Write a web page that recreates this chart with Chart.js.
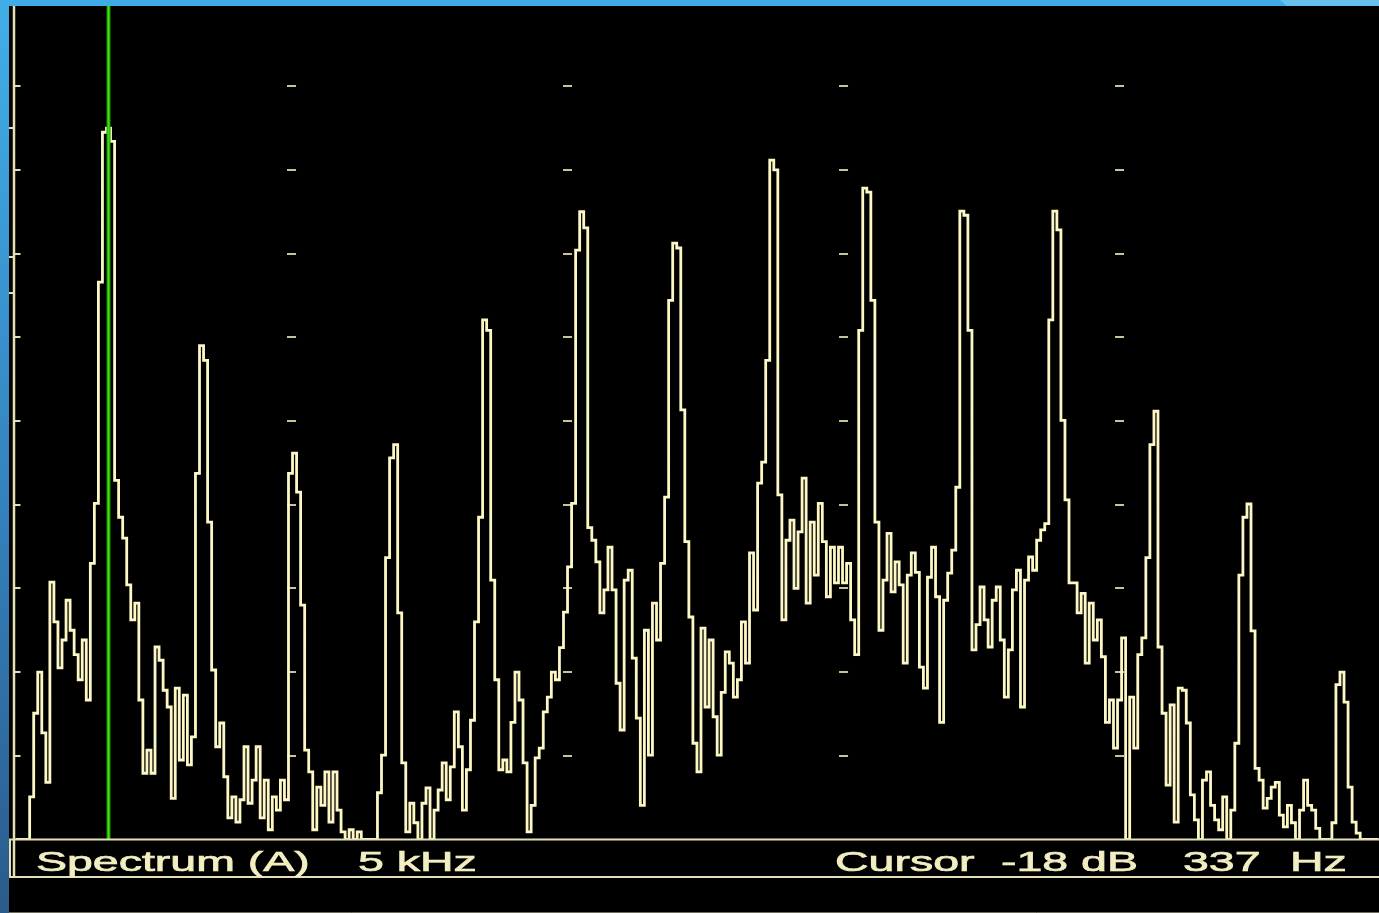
<!DOCTYPE html>
<html>
<head>
<meta charset="utf-8">
<script src="https://cdn.jsdelivr.net/npm/chart.js@4/dist/chart.umd.min.js"></script>
<style>
  html, body { margin: 0; padding: 0; background: #000; overflow: hidden; }
  canvas { display: block; }
</style>
</head>
<body>
<canvas id="scope" width="1379" height="913"></canvas>
<script>
// Analyser bin spacing (Hz) and the level of every bin (dB)
const binHz = 337 / 23;
const levelsDb = [
  -120, -120, -120, -120, -113.9, -101.9, -96.0, -104.7, -111.8, -83.1,
  -88.8, -95.4, -91.4, -85.7, -90.0, -93.5, -97.1, -91.4, -100.0, -80.4,
  -71.8, -40.1, -18.6, -18.0, -19.9, -68.5, -73.8, -76.8, -83.5, -88.5,
  -86.1, -100.0, -110.5, -107.2, -110.5, -92.4, -94.3, -98.6, -101.0, -114.1,
  -98.3, -108.6, -99.3, -109.3, -105.3, -67.5, -49.2, -51.3, -74.5, -95.7,
  -106.7, -103.3, -111.0, -116.9, -113.9, -117.5, -114.3, -106.7, -114.8, -111.5,
  -106.7, -116.9, -111.5, -118.6, -113.9, -115.8, -111.5, -114.3, -67.5, -64.6,
  -70.2, -86.4, -107.2, -110.3, -118.6, -112.5, -115.1, -110.3, -117.5, -110.3,
  -115.8, -118.9, -120, -118.6, -120, -118.9, -120, -120, -120, -120,
  -113.3, -107.9, -79.6, -65.3, -63.4, -87.5, -109.0, -118.9, -114.8, -117.6,
  -120, -114.8, -112.6, -120, -115.8, -112.9, -109.0, -114.3, -109.6, -101.7,
  -106.7, -115.8, -110.0, -102.9, -88.8, -73.8, -45.5, -47.0, -82.8, -97.1,
  -110.0, -108.6, -110.3, -103.2, -96.0, -100.0, -109.0, -118.9, -115.1, -108.3,
  -106.9, -101.7, -99.6, -96.0, -97.1, -92.5, -87.4, -80.9, -71.8, -35.5,
  -30.0, -32.3, -75.3, -77.1, -80.2, -87.5, -84.2, -78.1, -84.2, -97.6,
  -104.3, -82.8, -81.4, -94.0, -102.6, -115.1, -90.0, -107.9, -86.1, -91.4,
  -80.4, -70.9, -42.7, -34.5, -35.2, -58.4, -77.3, -88.1, -106.2, -110.3,
  -89.7, -101.0, -91.4, -102.4, -107.9, -98.9, -93.1, -94.7, -99.6, -97.1,
  -88.8, -94.7, -78.9, -87.1, -68.9, -65.9, -51.3, -22.6, -24.0, -70.6,
  -88.5, -77.1, -74.2, -84.0, -75.9, -68.2, -86.1, -74.5, -82.1, -71.8,
  -77.3, -85.2, -78.1, -83.2, -78.1, -83.2, -80.4, -88.5, -93.5, -47.0,
  -26.6, -27.2, -42.7, -74.5, -90.0, -82.8, -76.1, -84.5, -80.2, -83.5,
  -94.7, -82.1, -78.9, -81.7, -95.3, -98.3, -82.4, -78.1, -85.2, -103.2,
  -85.7, -81.8, -78.5, -69.5, -29.9, -30.5, -47.0, -92.8, -89.2, -83.8,
  -88.5, -92.4, -85.7, -83.8, -91.4, -99.6, -92.8, -84.2, -81.4, -101.0,
  -82.8, -79.5, -81.4, -77.1, -75.6, -74.7, -45.5, -29.9, -32.6, -59.9,
  -71.3, -83.2, -83.2, -87.5, -84.7, -94.7, -86.1, -91.4, -88.5, -93.8,
  -103.2, -100.0, -106.9, -100.0, -91.1, -120, -99.6, -106.9, -93.5, -91.1,
  -79.6, -63.4, -58.6, -92.4, -101.9, -112.2, -100.7, -117.5, -98.3, -98.6,
  -103.3, -113.6, -117.2, -120, -111.5, -110.3, -115.1, -117.2, -118.6, -113.9,
  -120, -115.8, -106.2, -82.1, -73.8, -71.9, -90.1, -109.8, -111.5, -115.5,
  -114.1, -112.5, -111.8, -116.5, -118.2, -115.1, -117.6, -120, -115.8, -111.5,
  -115.1, -115.8, -118.4, -120, -120, -120, -117.6, -97.8, -96.0, -100.3,
  -112.5, -117.5, -119.1, -120, -120, -120, -120, -120
];

// Graticule
const gridHz = [1000, 2000, 3000, 4000];
const gridDb = [-12, -24, -36, -48, -60, -72, -84, -96, -108];
const markerDb = [-18, -36.5, -41.6];
const spanHz = [0, 4940];
const rangeDb = [-120, 0];

// Cursor and status line
const cursorHz = 337;
const cursorDb = -18;
const statusTitle = 'Spectrum (A)';
const statusSpan = '5 kHz';
const statusCursor = 'Cursor';

const TRACE = '#fcf7c4';
const points = levelsDb.map((v, i) => ({ x: i * binHz, y: v }));

const scopeFrame = {
  id: 'scopeFrame',
  beforeDraw(chart) {
    const { ctx, width, height } = chart;
    const xs = chart.scales.x, ys = chart.scales.y;
    ctx.save();
    ctx.fillStyle = '#000';
    ctx.fillRect(0, 0, width, height);

    // graticule dashes
    ctx.strokeStyle = '#c8c39a';
    ctx.lineWidth = 2;
    ctx.beginPath();
    for (const hz of gridHz) {
      const px = xs.getPixelForValue(hz);
      for (const db of gridDb) {
        const py = Math.round(ys.getPixelForValue(db));
        ctx.moveTo(px - 4.5, py);
        ctx.lineTo(px + 4.5, py);
      }
    }
    ctx.stroke();

    // ticks on the level axis
    const ax = xs.getPixelForValue(0) - 1.5;
    ctx.strokeStyle = '#e4e0b4';
    ctx.beginPath();
    for (const db of gridDb) {
      const py = Math.round(ys.getPixelForValue(db));
      ctx.moveTo(ax, py);
      ctx.lineTo(ax + 6.5, py);
    }
    for (const db of markerDb) {
      const py = Math.round(ys.getPixelForValue(db));
      ctx.moveTo(ax - 5.5, py);
      ctx.lineTo(ax, py);
    }
    ctx.stroke();
    ctx.restore();
  },
  afterDatasetsDraw(chart) {
    const { ctx, width } = chart;
    const xs = chart.scales.x, ys = chart.scales.y;
    const base = ys.getPixelForValue(rangeDb[0]);
    const ax = xs.getPixelForValue(0) - 1.5;
    const stripBottom = 877;
    ctx.save();

    // cursor line
    const cx = xs.getPixelForValue(cursorHz);
    ctx.lineCap = 'butt';
    ctx.strokeStyle = '#169400';
    ctx.lineWidth = 4;
    ctx.beginPath(); ctx.moveTo(cx, 0); ctx.lineTo(cx, base); ctx.stroke();
    ctx.strokeStyle = '#3fdc12';
    ctx.lineWidth = 2;
    ctx.beginPath(); ctx.moveTo(cx, 0); ctx.lineTo(cx, base); ctx.stroke();

    // level axis, baseline and status strip
    ctx.strokeStyle = '#e4e0b4';
    ctx.lineWidth = 2.5;
    ctx.beginPath();
    ctx.moveTo(ax, 0); ctx.lineTo(ax, stripBottom);
    ctx.stroke();
    ctx.lineWidth = 2;
    ctx.beginPath();
    ctx.moveTo(9, base); ctx.lineTo(width, base);
    ctx.moveTo(9, stripBottom); ctx.lineTo(width, stripBottom);
    ctx.moveTo(10, base); ctx.lineTo(10, stripBottom);
    ctx.stroke();
    ctx.strokeStyle = 'rgba(200,196,160,0.55)';
    ctx.lineWidth = 1;
    ctx.beginPath(); ctx.moveTo(9, 912.5); ctx.lineTo(width, 912.5); ctx.stroke();

    // status text
    ctx.fillStyle = '#f2eec2';
    ctx.strokeStyle = '#f2eec2';
    ctx.lineWidth = 0.7;
    ctx.font = '28px "Liberation Sans", Arial, sans-serif';
    ctx.textBaseline = 'alphabetic';
    const pieces = [
      [statusTitle, 36],
      [statusSpan, 358],
      [statusCursor, 835],
      [cursorDb + ' dB', 1001],
      [String(cursorHz), 1183],
      ['Hz', 1290]
    ];
    for (const [txt, x] of pieces) {
      ctx.save();
      ctx.translate(x, 871);
      ctx.scale(1.66, 1);
      ctx.fillText(txt, 0, 0);
      ctx.strokeText(txt, 0, 0);
      ctx.restore();
    }
    ctx.restore();
  },
  afterDraw(chart) {
    const { ctx, width, height } = chart;
    ctx.save();
    const g = ctx.createLinearGradient(0, 0, 0, height);
    g.addColorStop(0, '#41aee8');
    g.addColorStop(0.5, '#3586c2');
    g.addColorStop(1, '#2b5b8c');
    ctx.fillStyle = g;
    ctx.fillRect(0, 0, 9, height);
    ctx.fillStyle = '#3eace6';
    ctx.fillRect(0, 0, width, 6);
    ctx.fillStyle = '#66c1ee';
    ctx.beginPath();
    ctx.moveTo(1280, 0); ctx.lineTo(width, 0); ctx.lineTo(width, 6); ctx.lineTo(1287, 6);
    ctx.closePath();
    ctx.fill();
    ctx.restore();
  }
};

new Chart(document.getElementById('scope'), {
  type: 'line',
  data: {
    datasets: [{
      data: points,
      stepped: 'middle',
      borderColor: TRACE,
      borderWidth: 2.8,
      pointRadius: 0,
      fill: false
    }]
  },
  options: {
    responsive: false,
    animation: false,
    devicePixelRatio: 1,
    layout: { padding: { left: 15.5, top: 2.5, right: 0, bottom: 73.5 } },
    scales: {
      x: { type: 'linear', min: spanHz[0], max: spanHz[1], display: false },
      y: { type: 'linear', min: rangeDb[0], max: rangeDb[1], display: false }
    },
    plugins: { legend: { display: false }, tooltip: { enabled: false } },
    events: []
  },
  plugins: [scopeFrame]
});
</script>
</body>
</html>
